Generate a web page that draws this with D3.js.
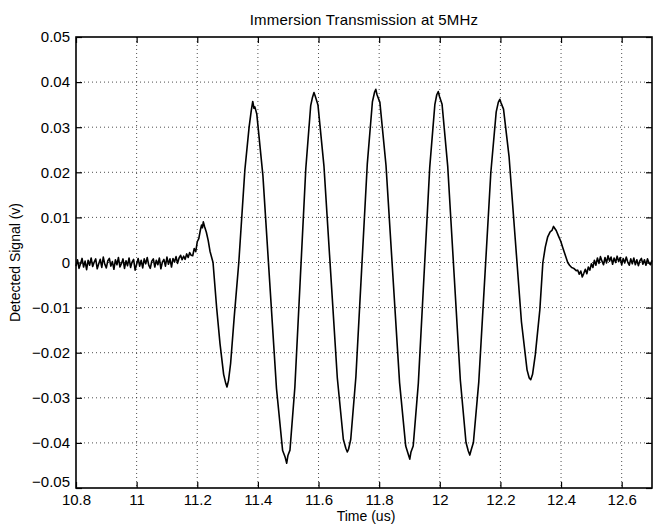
<!DOCTYPE html>
<html>
<head>
<meta charset="utf-8">
<title>Immersion Transmission at 5MHz</title>
<script src="https://d3js.org/d3.v7.min.js"></script>
<style>
 body { margin: 0; background: #fff; }
 text { font-family: "Liberation Sans", Arial, Helvetica, sans-serif; fill: #000; }
</style>
</head>
<body>
<script>
var W = 660, H = 527;
var m = {top: 37, right: 8, bottom: 39, left: 76};

// axes
var xDomain = [10.8, 12.7];
var yDomain = [-0.05, 0.05];
var xTicks = [10.8, 11, 11.2, 11.4, 11.6, 11.8, 12, 12.2, 12.4, 12.6];
var yTicks = [-0.05, -0.04, -0.03, -0.02, -0.01, 0, 0.01, 0.02, 0.03, 0.04, 0.05];

// quiet baseline before the burst, one sample every 0.005 us from 10.8
var leadStart = 10.8, leadStep = 0.005;
var lead = [
 -0.0008, 0.0006, -0.0013, -0.0002, 0.0009, -0.0010, 0.0003, -0.0016, 0.0005, -0.0006,
 0.0010, -0.0009, 0.0001, 0.0008, -0.0014, -0.0003, 0.0007, -0.0011, 0.0012, -0.0004,
 -0.0012, 0.0004, 0.0009, -0.0008, 0.0002, -0.0015, 0.0006, -0.0005, 0.0011, -0.0010,
 -0.0002, 0.0008, -0.0013, 0.0004, -0.0007, 0.0010, -0.0011, 0.0001, 0.0007, -0.0017,
 -0.0004, 0.0009, -0.0008, 0.0005, -0.0012, 0.0008, -0.0003, 0.0011, -0.0006, -0.0013,
 0.0003, 0.0008, -0.0010, 0.0005, -0.0005, 0.0010, -0.0014, 0.0001, 0.0007, -0.0008,
 0.0012, -0.0004, 0.0008, -0.0010, 0.0009, 0.0001, 0.0013, -0.0002, 0.0010, 0.0016,
 0.0006, 0.0014, 0.0007, 0.0019, 0.0011, 0.0022, 0.0016
];

// the tone burst itself, [time (us), signal (v)]
var burst = [
 [11.185, 0.0015], [11.190, 0.0031], [11.195, 0.0024], [11.200, 0.0046], [11.205, 0.0053],
 [11.210, 0.0071], [11.214, 0.0083], [11.217, 0.0077], [11.220, 0.0090], [11.224, 0.0080],
 [11.230, 0.0067], [11.236, 0.0049], [11.242, 0.0025], [11.252, 0.0000], [11.264, -0.0101],
 [11.275, -0.0180], [11.287, -0.0248], [11.294, -0.0268], [11.298, -0.0276], [11.303, -0.0262],
 [11.310, -0.0224], [11.322, -0.0120], [11.337, 0.0000], [11.357, 0.0205], [11.371, 0.0300],
 [11.378, 0.0336], [11.383, 0.0357], [11.387, 0.0342], [11.390, 0.0345],
 [11.3964, 0.0329], [11.4166, 0.0192], [11.4390, -0.0044], [11.4614, -0.0280], [11.4816, -0.0417],
 [11.490, -0.0432], [11.495, -0.0445], [11.499, -0.0428],
 [11.5058, -0.0416], [11.5220, -0.0276], [11.5400, -0.0034], [11.5580, 0.0208], [11.5742, 0.0348],
 [11.580, 0.0366], [11.585, 0.0377], [11.589, 0.0369],
 [11.5982, 0.0349], [11.6180, 0.0213], [11.6400, -0.0022], [11.6620, -0.0256], [11.6818, -0.0392],
 [11.690, -0.0412], [11.695, -0.0420], [11.699, -0.0414],
 [11.7063, -0.0392], [11.7232, -0.0254], [11.7420, -0.0018], [11.7608, 0.0218], [11.7777, 0.0356],
 [11.785, 0.0378], [11.789, 0.0384], [11.793, 0.0372],
 [11.8024, 0.0355], [11.8226, 0.0215], [11.8450, -0.0026], [11.8674, -0.0267], [11.8876, -0.0407],
 [11.896, -0.0425], [11.901, -0.0436], [11.905, -0.0420],
 [11.9123, -0.0407], [11.9292, -0.0268], [11.9480, -0.0029], [11.9668, 0.0211], [11.9837, 0.0350],
 [11.990, 0.0372], [11.995, 0.0379], [11.999, 0.0368],
 [12.0075, 0.0351], [12.0262, 0.0213], [12.0470, -0.0024], [12.0678, -0.0261], [12.0865, -0.0399],
 [12.094, -0.0418], [12.099, -0.0427], [12.103, -0.0417],
 [12.1109, -0.0399], [12.1287, -0.0264], [12.1485, -0.0033], [12.1683, 0.0199], [12.1861, 0.0334],
 [12.193, 0.0355], [12.198, 0.0362], [12.202, 0.0354],
 [12.2102, 0.0340], [12.2286, 0.0234], [12.2490, 0.0051], [12.2694, -0.0132], [12.2878, -0.0238],
 [12.295, -0.0256], [12.300, -0.0260], [12.306, -0.0248],
 [12.315, -0.0205], [12.330, -0.0105], [12.340, 0.0000], [12.348, 0.0034], [12.356, 0.0057],
 [12.364, 0.0068], [12.370, 0.0071], [12.375, 0.0080], [12.379, 0.0076], [12.384, 0.0071],
 [12.392, 0.0058], [12.399, 0.0047], [12.406, 0.0032], [12.414, 0.0016], [12.422, 0.0000],
 [12.428, -0.0006], [12.435, -0.0011], [12.442, -0.0013], [12.450, -0.0018]
];

// ringing down and back to the baseline, one sample every 0.005 us from 12.455
var tailStart = 12.455, tailStep = 0.005;
var tail = [
 -0.0017, -0.0026, -0.0019, -0.0032, -0.0024, -0.0015, -0.0025, -0.0010, -0.0017, -0.0003,
 -0.0011, 0.0005, -0.0006, 0.0010, -0.0002, 0.0013, 0.0003, -0.0005, 0.0011, -0.0001,
 0.0015, 0.0003, 0.0012, -0.0004, 0.0010, 0.0000, 0.0014, 0.0002, 0.0011, -0.0005,
 0.0009, -0.0001, 0.0012, 0.0001, -0.0006, 0.0008, -0.0003, 0.0010, -0.0005, 0.0006,
 -0.0007, 0.0004, 0.0009, -0.0004, 0.0006, -0.0006, 0.0008, -0.0001, -0.0005, 0.0005
];

var pts = lead.map(function(v, i) { return [leadStart + i * leadStep, v]; })
 .concat(burst)
 .concat(tail.map(function(v, i) { return [tailStart + i * tailStep, v]; }));

var svg = d3.select("body").append("svg")
 .attr("width", W)
 .attr("height", H);

var iw = W - m.left - m.right, ih = H - m.top - m.bottom;
var g = svg.append("g").attr("transform", "translate(" + m.left + "," + m.top + ")");

var x = d3.scaleLinear().domain(xDomain).range([0, iw]);
var y = d3.scaleLinear().domain(yDomain).range([ih, 0]);

// dotted grid
g.append("g").selectAll("line").data(xTicks.slice(1)).enter().append("line")
 .attr("x1", function(d) { return x(d); })
 .attr("x2", function(d) { return x(d); })
 .attr("y1", 0).attr("y2", ih)
 .attr("stroke", "#222").attr("stroke-width", 0.8)
 .attr("stroke-dasharray", "1 3");
g.append("g").selectAll("line").data(yTicks.slice(1, -1)).enter().append("line")
 .attr("x1", 0).attr("x2", iw)
 .attr("y1", function(d) { return y(d); })
 .attr("y2", function(d) { return y(d); })
 .attr("stroke", "#222").attr("stroke-width", 0.8)
 .attr("stroke-dasharray", "1 3");

// signal
var line = d3.line()
 .x(function(d) { return x(d[0]); })
 .y(function(d) { return y(d[1]); });
g.append("path")
 .datum(pts)
 .attr("d", line)
 .attr("fill", "none")
 .attr("stroke", "#000")
 .attr("stroke-width", 1.6)
 .attr("stroke-linejoin", "round");

// axes, ticks pointing inward
var fmtX = function(d) { return String(+d.toFixed(1)); };
var fmtY = function(d) { return d === 0 ? "0" : d3.format(".2f")(d); };

var xAx = g.append("g").attr("transform", "translate(0," + ih + ")")
 .call(d3.axisBottom(x).tickValues(xTicks).tickFormat(fmtX).tickSize(-6).tickPadding(6));
var yAx = g.append("g")
 .call(d3.axisLeft(y).tickValues(yTicks).tickFormat(fmtY).tickSize(-6).tickPadding(6));
var xTop = g.append("g")
 .call(d3.axisTop(x).tickValues(xTicks).tickFormat("").tickSize(-6));
var yRight = g.append("g").attr("transform", "translate(" + iw + ",0)")
 .call(d3.axisRight(y).tickValues(yTicks).tickFormat("").tickSize(-6));

[xAx, yAx, xTop, yRight].forEach(function(a) {
 a.select(".domain").remove();
 a.selectAll(".tick line").attr("stroke", "#000").attr("stroke-width", 1.2);
 a.selectAll("text").attr("font-size", 15).attr("font-family", null);
});

// the bottom y label sits just above the first x label, as in the original
yAx.selectAll(".tick text")
 .filter(function(d) { return d === yDomain[0]; })
 .attr("dy", "-0.1em");

// box
g.append("rect")
 .attr("width", iw).attr("height", ih)
 .attr("fill", "none").attr("stroke", "#000").attr("stroke-width", 1.6);

// labels
svg.append("text")
 .attr("x", m.left + iw / 2).attr("y", 25)
 .attr("text-anchor", "middle").attr("font-size", 15)
 .attr("letter-spacing", "0.2px")
 .text("Immersion Transmission at 5MHz");
svg.append("text")
 .attr("x", m.left + iw / 2 + 2).attr("y", 521)
 .attr("text-anchor", "middle").attr("font-size", 14)
 .text("Time (us)");
svg.append("text")
 .attr("transform", "translate(20," + (m.top + ih / 2) + ") rotate(-90)")
 .attr("text-anchor", "middle").attr("font-size", 14)
 .text("Detected Signal (v)");
</script>
</body>
</html>
